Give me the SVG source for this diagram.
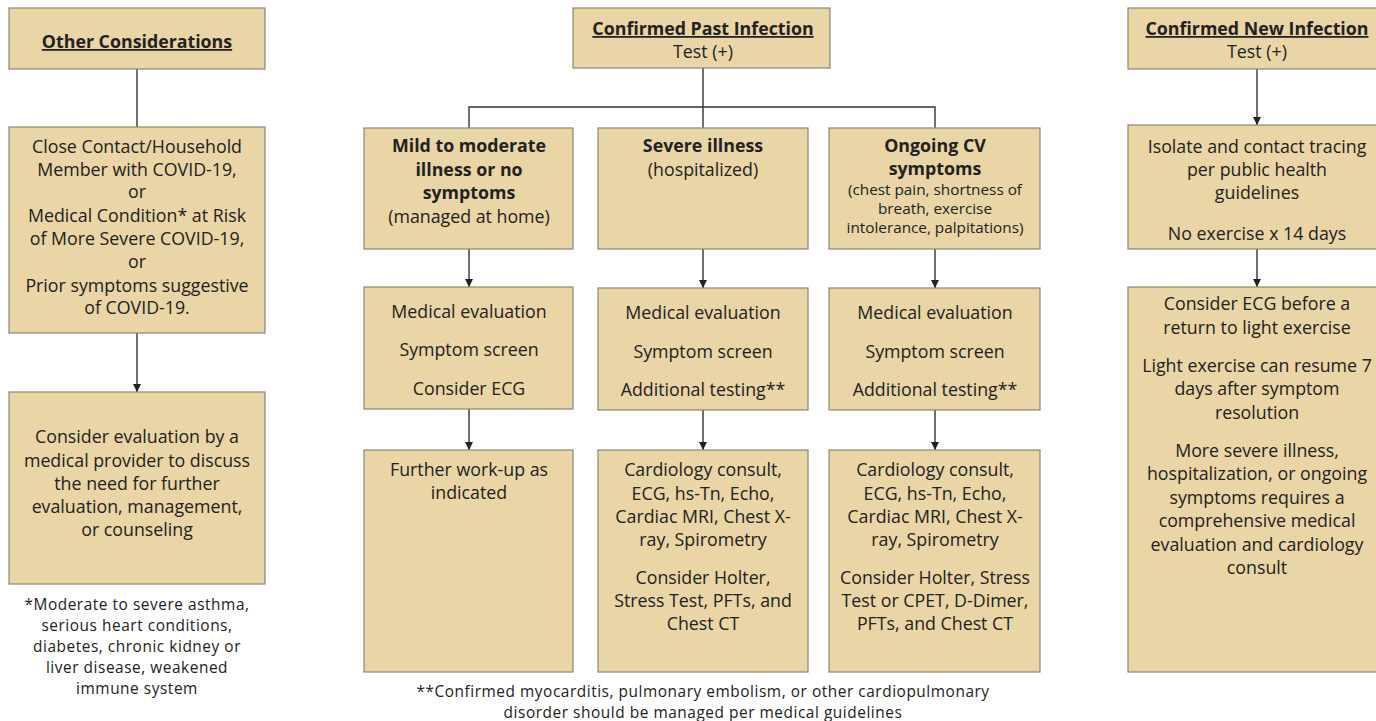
<svg xmlns="http://www.w3.org/2000/svg" width="1376" height="721" viewBox="0 0 1376 721">
<style>
.box{fill:#e9d5a5;stroke:#8d8676;stroke-width:1.2}
text{font-family:"Open Sans","Noto Sans",sans-serif;fill:#222;text-anchor:middle}
.t{font-size:17.8px}
.b{font-size:17.8px;font-weight:bold}
.u{text-decoration:underline}
.s{font-size:15.3px}
.f{font-size:15.4px;letter-spacing:0.55px}
.c{stroke:#333;stroke-width:1.4;fill:none}
</style>
<defs>
<marker id="ah" viewBox="0 0 10 10" refX="10" refY="5" markerWidth="8" markerHeight="8" markerUnits="userSpaceOnUse" orient="auto">
<path d="M0,0 L10,5 L0,10 z" fill="#222"/>
</marker>
</defs>
<g id="connectors">
<line class="c" x1="137" y1="69" x2="137" y2="127"/>
<line class="c" x1="137" y1="333" x2="137" y2="392" marker-end="url(#ah)"/>
<polyline class="c" points="703,68 703,107"/>
<polyline class="c" points="469,128 469,107 935,107 935,128"/>
<line class="c" x1="703" y1="107" x2="703" y2="128"/>
<line class="c" x1="469" y1="249" x2="469" y2="287" marker-end="url(#ah)"/>
<line class="c" x1="703" y1="249" x2="703" y2="288" marker-end="url(#ah)"/>
<line class="c" x1="935" y1="249" x2="935" y2="288" marker-end="url(#ah)"/>
<line class="c" x1="469" y1="409" x2="469" y2="450" marker-end="url(#ah)"/>
<line class="c" x1="703" y1="410" x2="703" y2="450" marker-end="url(#ah)"/>
<line class="c" x1="935" y1="410" x2="935" y2="450" marker-end="url(#ah)"/>
<line class="c" x1="1257" y1="69" x2="1257" y2="125" marker-end="url(#ah)"/>
<line class="c" x1="1257" y1="249" x2="1257" y2="287" marker-end="url(#ah)"/>
</g>
<g id="other-considerations">
<rect class="box" x="9" y="8" width="256" height="61"/>
<text class="b u" x="137" y="48">Other Considerations</text>
</g>
<g id="close-contact">
<rect class="box" x="9" y="127" width="256" height="206"/>
<text class="t" x="137" y="153">Close Contact/Household</text>
<text class="t" x="137" y="176">Member with COVID-19,</text>
<text class="t" x="137" y="198">or</text>
<text class="t" x="137" y="222">Medical Condition* at Risk</text>
<text class="t" x="137" y="245">of More Severe COVID-19,</text>
<text class="t" x="137" y="268">or</text>
<text class="t" x="137" y="292">Prior symptoms suggestive</text>
<text class="t" x="137" y="314">of COVID-19.</text>
</g>
<g id="consider-evaluation">
<rect class="box" x="9" y="392" width="256" height="192"/>
<text class="t" x="137" y="443">Consider evaluation by a</text>
<text class="t" x="137" y="467">medical provider to discuss</text>
<text class="t" x="137" y="490">the need for further</text>
<text class="t" x="137" y="513">evaluation, management,</text>
<text class="t" x="137" y="536">or counseling</text>
</g>
<g id="footnote-left">
<text class="f" x="137" y="610">*Moderate to severe asthma,</text>
<text class="f" x="137" y="631">serious heart conditions,</text>
<text class="f" x="137" y="652">diabetes, chronic kidney or</text>
<text class="f" x="137" y="673">liver disease, weakened</text>
<text class="f" x="137" y="694">immune system</text>
</g>
<g id="confirmed-past">
<rect class="box" x="573" y="8" width="257" height="60"/>
<text class="b u" x="703" y="35">Confirmed Past Infection</text>
<text class="t" x="703" y="58">Test (+)</text>
</g>
<g id="mild">
<rect class="box" x="364" y="128" width="209" height="121"/>
<text class="b" x="469" y="152">Mild to moderate</text>
<text class="b" x="469" y="176">illness or no</text>
<text class="b" x="469" y="199">symptoms</text>
<text class="t" x="469" y="223">(managed at home)</text>
</g>
<g id="severe">
<rect class="box" x="598" y="128" width="210" height="121"/>
<text class="b" x="703" y="152">Severe illness</text>
<text class="t" x="703" y="176">(hospitalized)</text>
</g>
<g id="ongoing">
<rect class="box" x="829" y="128" width="211" height="121"/>
<text class="b" x="935" y="152">Ongoing CV</text>
<text class="b" x="935" y="175">symptoms</text>
<text class="s" x="935" y="195">(chest pain, shortness of</text>
<text class="s" x="935" y="214">breath, exercise</text>
<text class="s" x="935" y="233">intolerance, palpitations)</text>
</g>
<g id="mild-eval">
<rect class="box" x="364" y="287" width="209" height="122"/>
<text class="t" x="469" y="318">Medical evaluation</text>
<text class="t" x="469" y="356">Symptom screen</text>
<text class="t" x="469" y="395">Consider ECG</text>
</g>
<g id="severe-eval">
<rect class="box" x="598" y="288" width="210" height="122"/>
<text class="t" x="703" y="319">Medical evaluation</text>
<text class="t" x="703" y="358">Symptom screen</text>
<text class="t" x="703" y="396">Additional testing**</text>
</g>
<g id="ongoing-eval">
<rect class="box" x="829" y="288" width="211" height="122"/>
<text class="t" x="935" y="319">Medical evaluation</text>
<text class="t" x="935" y="358">Symptom screen</text>
<text class="t" x="935" y="396">Additional testing**</text>
</g>
<g id="mild-further">
<rect class="box" x="364" y="450" width="209" height="222"/>
<text class="t" x="469" y="476">Further work-up as</text>
<text class="t" x="469" y="499">indicated</text>
</g>
<g id="severe-further">
<rect class="box" x="598" y="450" width="210" height="222"/>
<text class="t" x="703" y="476">Cardiology consult,</text>
<text class="t" x="703" y="500">ECG, hs-Tn, Echo,</text>
<text class="t" x="703" y="523">Cardiac MRI, Chest X-</text>
<text class="t" x="703" y="546">ray, Spirometry</text>
<text class="t" x="703" y="584">Consider Holter,</text>
<text class="t" x="703" y="607">Stress Test, PFTs, and</text>
<text class="t" x="703" y="630">Chest CT</text>
</g>
<g id="ongoing-further">
<rect class="box" x="829" y="450" width="211" height="222"/>
<text class="t" x="935" y="476">Cardiology consult,</text>
<text class="t" x="935" y="500">ECG, hs-Tn, Echo,</text>
<text class="t" x="935" y="523">Cardiac MRI, Chest X-</text>
<text class="t" x="935" y="546">ray, Spirometry</text>
<text class="t" x="935" y="584">Consider Holter, Stress</text>
<text class="t" x="935" y="607">Test or CPET, D-Dimer,</text>
<text class="t" x="935" y="630">PFTs, and Chest CT</text>
</g>
<g id="footnote-center">
<text class="f" x="703" y="697">**Confirmed myocarditis, pulmonary embolism, or other cardiopulmonary</text>
<text class="f" x="703" y="718">disorder should be managed per medical guidelines</text>
</g>
<g id="confirmed-new">
<rect class="box" x="1128" y="8" width="260" height="61"/>
<text class="b u" x="1257" y="35">Confirmed New Infection</text>
<text class="t" x="1257" y="58">Test (+)</text>
</g>
<g id="isolate">
<rect class="box" x="1128" y="125" width="260" height="124"/>
<text class="t" x="1257" y="153">Isolate and contact tracing</text>
<text class="t" x="1257" y="176">per public health</text>
<text class="t" x="1257" y="199">guidelines</text>
<text class="t" x="1257" y="240">No exercise x 14 days</text>
</g>
<g id="consider-ecg">
<rect class="box" x="1128" y="287" width="260" height="385"/>
<text class="t" x="1257" y="310">Consider ECG before a</text>
<text class="t" x="1257" y="334">return to light exercise</text>
<text class="t" x="1257" y="372">Light exercise can resume 7</text>
<text class="t" x="1257" y="395">days after symptom</text>
<text class="t" x="1257" y="419">resolution</text>
<text class="t" x="1257" y="457">More severe illness,</text>
<text class="t" x="1257" y="480">hospitalization, or ongoing</text>
<text class="t" x="1257" y="504">symptoms requires a</text>
<text class="t" x="1257" y="527">comprehensive medical</text>
<text class="t" x="1257" y="551">evaluation and cardiology</text>
<text class="t" x="1257" y="574">consult</text>
</g>
</svg>
